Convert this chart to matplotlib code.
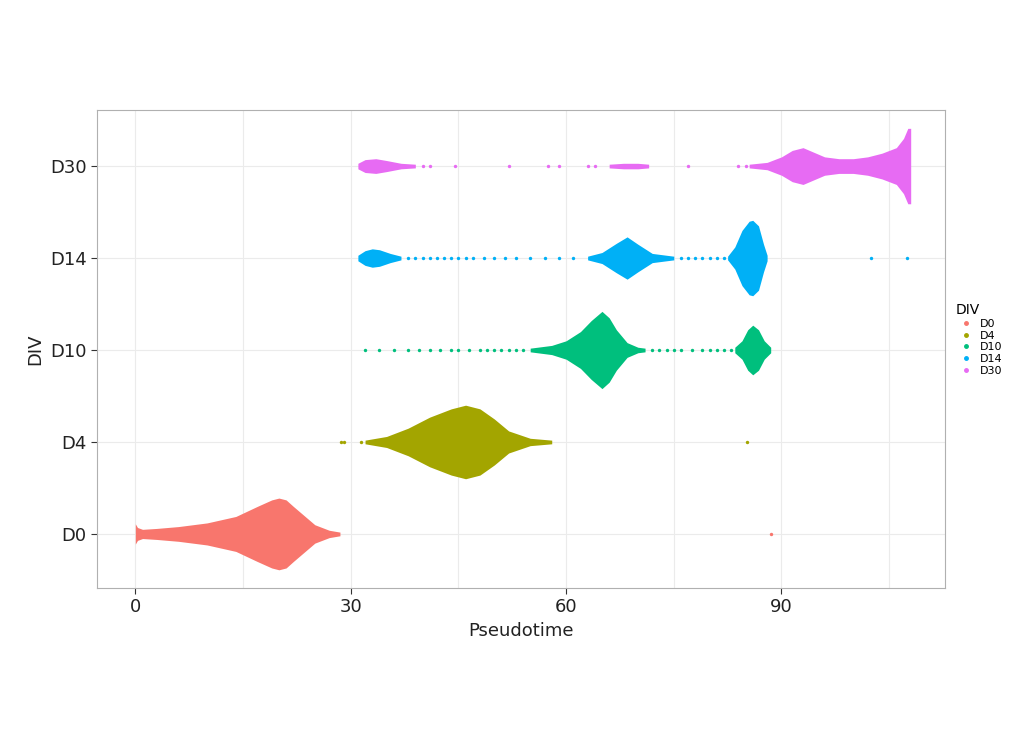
import numpy as np
import matplotlib.pyplot as plt

groups = ["D0", "D4", "D10", "D14", "D30"]
colors = ["#F8766D", "#A3A500", "#00BF7D", "#00B0F6", "#E76BF3"]

# dense parts of each swarm: pseudotime positions and half-widths (in category units)
d0_x = [0, 0.3, 1, 3, 6, 10, 14, 17, 19, 20, 21, 22, 23.5, 25, 27, 28.5]
d0_w = [0.11, 0.07, 0.05, 0.06, 0.08, 0.12, 0.19, 0.3, 0.37, 0.39, 0.37, 0.3, 0.2, 0.1, 0.04, 0.02]
d4_x = [32, 35, 38, 41, 44, 46, 48, 50, 52, 55, 58]
d4_w = [0.02, 0.06, 0.15, 0.27, 0.36, 0.4, 0.36, 0.25, 0.12, 0.04, 0.02]
d10_x = [55, 58, 60, 62, 63.5, 65, 66, 67, 68.5, 70, 71]
d10_w = [0.02, 0.05, 0.1, 0.2, 0.32, 0.42, 0.35, 0.22, 0.08, 0.03, 0.02]
d10b_x = [83.5, 84.5, 85.3, 86, 86.8, 87.6, 88.5]
d10b_w = [0.03, 0.1, 0.22, 0.27, 0.22, 0.1, 0.03]
d14a_x = [31, 32, 33, 34, 35.5, 37]
d14a_w = [0.03, 0.08, 0.1, 0.09, 0.05, 0.02]
d14b_x = [63, 65, 67, 68.5, 70, 72, 75]
d14b_w = [0.02, 0.06, 0.16, 0.23, 0.15, 0.05, 0.02]
d14c_x = [82.5, 83.5, 84.5, 85.5, 86, 86.8, 87.5, 88]
d14c_w = [0.02, 0.12, 0.3, 0.4, 0.41, 0.35, 0.15, 0.03]
d30a_x = [31, 32, 33.5, 35, 37, 39]
d30a_w = [0.03, 0.07, 0.08, 0.06, 0.03, 0.02]
d30b_x = [85.5, 88, 90, 91.5, 93, 94.5, 96, 98, 100, 102, 104, 106, 107, 107.6, 108]
d30b_w = [0.02, 0.04, 0.1, 0.17, 0.2, 0.15, 0.1, 0.08, 0.08, 0.1, 0.14, 0.2, 0.3, 0.41, 0.41]
d30c_x = [66, 68, 70, 71.5]
d30c_w = [0.02, 0.03, 0.03, 0.02]

dense = {
    0: [(d0_x, d0_w)],
    1: [(d4_x, d4_w)],
    2: [(d10_x, d10_w), (d10b_x, d10b_w)],
    3: [(d14a_x, d14a_w), (d14b_x, d14b_w), (d14c_x, d14c_w)],
    4: [(d30a_x, d30a_w), (d30c_x, d30c_w), (d30b_x, d30b_w)],
}

# sparse single cells along each row
sparse = {
    0: [88.5],
    1: [28.6, 29.0, 31.5, 85.2],
    2: [32, 34, 36, 38, 39.5, 41, 42.5, 44, 45, 46.5, 48, 49, 50, 51, 52, 53, 54,
        72, 73, 74, 75, 76, 77.5, 79, 80, 81, 82, 83],
    3: [38, 39, 40, 41, 42, 43, 44, 45, 46, 47, 48.5, 50, 51.5, 53, 55, 57, 59, 61,
        76, 77, 78, 79, 80, 81, 82, 102.5, 107.5],
    4: [40, 41, 44.5, 52, 57.5, 59, 63, 64, 77, 84, 85],
}

fig, ax = plt.subplots(figsize=(10.24, 7.48), dpi=100)
fig.subplots_adjust(left=0.095, right=0.923, top=0.853, bottom=0.214)

for i, col in enumerate(colors):
    for xs, ws in dense[i]:
        xs = np.array(xs); ws = np.array(ws)
        ax.fill_between(xs, i - ws, i + ws, color=col, lw=0, zorder=3)
    ax.scatter(sparse[i], [i] * len(sparse[i]), s=6, color=col, lw=0, zorder=3)

ax.set_xlim(-5.3, 112.8)
ax.set_ylim(-0.587, 4.61)
ax.set_xticks([0, 30, 60, 90])
ax.set_xticks([15, 45, 75, 105], minor=True)
ax.set_yticks(range(5))
ax.set_yticklabels(groups)
ax.tick_params(labelsize=13, length=4, color="#333333", colors="#222222")
ax.tick_params(which="minor", length=0)
ax.grid(True, which="both", color="#ebebeb", lw=0.8, zorder=0)
for s in ax.spines.values():
    s.set_color("#b0b0b0")
ax.set_xlabel("Pseudotime", fontsize=13, color="#222222")
ax.set_ylabel("DIV", fontsize=13, color="#222222")

handles = [plt.Line2D([], [], marker="o", ls="", ms=2.5, color=c) for c in colors]
leg = ax.legend(handles, groups, title="DIV", loc="center left", bbox_to_anchor=(1.0, 0.52),
                frameon=False, fontsize=8, title_fontsize=10, handletextpad=0.2,
                labelspacing=0.15, alignment="left")

fig.savefig("out.png", dpi=100)
